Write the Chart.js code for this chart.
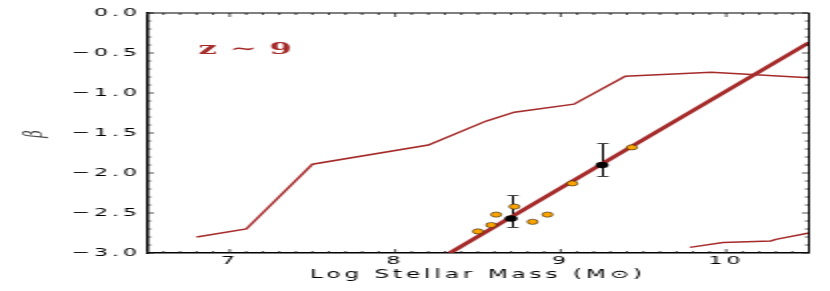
<!DOCTYPE html>
<html>
<head>
<meta charset="utf-8">
<script src="https://cdn.jsdelivr.net/npm/chart.js@4.4.1/dist/chart.umd.min.js"></script>
<style>
  html, body { margin: 0; padding: 0; background: #fff; overflow: hidden; }
  /* the original figure is stretched 2x horizontally */
  #wrap { width: 415px; height: 291px; transform: scaleX(2); transform-origin: 0 0; }
</style>
</head>
<body>
<div id="wrap"><canvas id="chart" width="415" height="291"></canvas></div>
<script>
// tick labels
const xTickValues = [7, 8, 9, 10];
const yTickValues = [0, -0.5, -1, -1.5, -2, -2.5, -3];

// model tracks
const upperMass = [6.8, 7.1, 7.5, 8.2, 8.55, 8.72, 9.08, 9.39, 9.91, 10.5];
const upperBeta = [-2.8, -2.7, -1.89, -1.65, -1.35, -1.24, -1.14, -0.79, -0.74, -0.81];
const lowerMass = [9.78, 9.98, 10.27, 10.3, 10.5];
const lowerBeta = [-2.93, -2.87, -2.85, -2.83, -2.75];

// best fit relation
const fitMass = [8.33, 10.5];
const fitBeta = [-3.0, -0.37];

// individual galaxies
const galMass = [8.5, 8.58, 8.61, 8.72, 8.83, 8.92, 9.07, 9.43];
const galBeta = [-2.73, -2.65, -2.52, -2.42, -2.61, -2.52, -2.13, -1.68];

// binned means with error range
const binMass = [8.70, 9.25];
const binBeta = [-2.57, -1.90];
const binHigh = [-2.27, -1.63];
const binLow = [-2.67, -2.04];

// redshift label
const zLabel = 'z \u223c 9';
const zLabelAt = { x: 6.81, y: -0.51 };

const brown = '#a52a2a';
const toXY = (xs, ys) => xs.map((x, i) => ({ x: x, y: ys[i] }));

const frame = {
  id: 'frame',
  beforeDraw(chart) {
    chart.ctx.letterSpacing = '2px';
  },
  beforeDatasetsDraw(chart) {
    const { ctx, scales: { x, y } } = chart;
    ctx.save();
    binMass.forEach((m, i) => {
      const px = Math.round(x.getPixelForValue(m)) + 0.5;
      const top = Math.round(y.getPixelForValue(binHigh[i])) + 0.5;
      const bot = Math.round(y.getPixelForValue(binLow[i])) + 0.5;
      ctx.strokeStyle = '#000';
      ctx.lineWidth = 1;
      ctx.beginPath();
      ctx.moveTo(px, top);
      ctx.lineTo(px, bot);
      ctx.stroke();
      ctx.strokeStyle = '#444';
      ctx.lineWidth = 1;
      ctx.beginPath();
      ctx.moveTo(px - 2.8, top); ctx.lineTo(px + 2.8, top);
      ctx.moveTo(px - 2.8, bot); ctx.lineTo(px + 2.8, bot);
      ctx.stroke();
    });
    ctx.restore();
  },
  afterDatasetsDraw(chart) {
    const { ctx, chartArea: a, scales: { x, y } } = chart;
    ctx.save();
    // inward ticks on all four sides
    ctx.strokeStyle = '#222';
    ctx.lineWidth = 0.8;
    ctx.beginPath();
    for (let k = 65; k <= 105; k++) {
      const px = x.getPixelForValue(k / 10);
      const len = k % 10 === 0 ? 4 : 2;
      ctx.moveTo(px, a.bottom); ctx.lineTo(px, a.bottom - len);
      ctx.moveTo(px, a.top); ctx.lineTo(px, a.top + len);
    }
    for (let k = 0; k <= 30; k++) {
      const py = y.getPixelForValue(-k / 10);
      const len = k % 5 === 0 ? 3.5 : 2;
      ctx.moveTo(a.left, py); ctx.lineTo(a.left + len, py);
      ctx.moveTo(a.right, py); ctx.lineTo(a.right - len, py);
    }
    ctx.stroke();
    // top and right spines
    ctx.strokeStyle = '#000';
    ctx.lineWidth = 1;
    ctx.beginPath();
    ctx.moveTo(a.left, a.top); ctx.lineTo(a.right, a.top); ctx.lineTo(a.right, a.bottom);
    ctx.stroke();
    // redshift label
    ctx.letterSpacing = '0.5px';
    ctx.fillStyle = brown;
    ctx.font = 'bold 16px "DejaVu Serif"';
    ctx.textAlign = 'left';
    ctx.textBaseline = 'alphabetic';
    ctx.fillText(zLabel, x.getPixelForValue(zLabelAt.x), y.getPixelForValue(zLabelAt.y));
    ctx.restore();
    ctx.letterSpacing = '2px';
  }
};

new Chart(document.getElementById('chart'), {
  type: 'scatter',
  data: {
    datasets: [
      { data: toXY(binMass, binBeta), pointRadius: 3, pointBackgroundColor: '#000', pointBorderColor: '#000', pointBorderWidth: 0.5 },
      { data: toXY(galMass, galBeta), pointRadius: 2.6, pointBackgroundColor: '#ffa500', pointBorderColor: '#000', pointBorderWidth: 0.5 },
      { data: toXY(fitMass, fitBeta), showLine: true, borderColor: brown, borderWidth: 3, pointRadius: 0 },
      { data: toXY(upperMass, upperBeta), showLine: true, borderColor: brown, borderWidth: 1.5, pointRadius: 0 },
      { data: toXY(lowerMass, lowerBeta), showLine: true, borderColor: brown, borderWidth: 1.5, pointRadius: 0 }
    ]
  },
  options: {
    responsive: false,
    animation: false,
    devicePixelRatio: 1,
    layout: { padding: { top: 13, right: 10.5, left: 0, bottom: 0 } },
    plugins: { legend: { display: false }, tooltip: { enabled: false } },
    scales: {
      x: {
        type: 'linear',
        min: 6.5,
        max: 10.5,
        afterBuildTicks: s => { s.ticks = xTickValues.map(v => ({ value: v })); },
        afterFit: s => { s.height = 38; },
        grid: { display: false, drawTicks: false },
        border: { display: true, color: '#000', width: 1.5 },
        ticks: {
          z: 1, padding: 2, color: '#000', autoSkip: false, maxRotation: 0,
          font: { family: 'DejaVu Sans', size: 11 },
          callback: v => String(v)
        },
        title: {
          display: true, text: 'Log Stellar Mass (M\u2299)', color: '#000',
          font: { family: 'DejaVu Sans', size: 11.5 },
          padding: { top: 0, bottom: 9 }
        }
      },
      y: {
        type: 'linear',
        min: -3,
        max: 0,
        afterBuildTicks: s => { s.ticks = yTickValues.map(v => ({ value: v })); },
        afterFit: s => { s.width = 73.5; },
        grid: { display: false, drawTicks: false },
        border: { display: true, color: '#000', width: 1.5 },
        ticks: {
          z: 1, padding: 3, color: '#000',
          font: { family: 'DejaVu Sans', size: 11 },
          callback: v => v === 0 ? '0.0' : '\u2212' + Math.abs(v).toFixed(1)
        },
        title: {
          display: true, text: '\u03b2', color: '#444',
          font: { family: 'DejaVu Serif', style: 'italic', size: 13 },
          padding: { top: 10, bottom: 0 }
        }
      }
    }
  },
  plugins: [frame]
});
</script>
</body>
</html>
